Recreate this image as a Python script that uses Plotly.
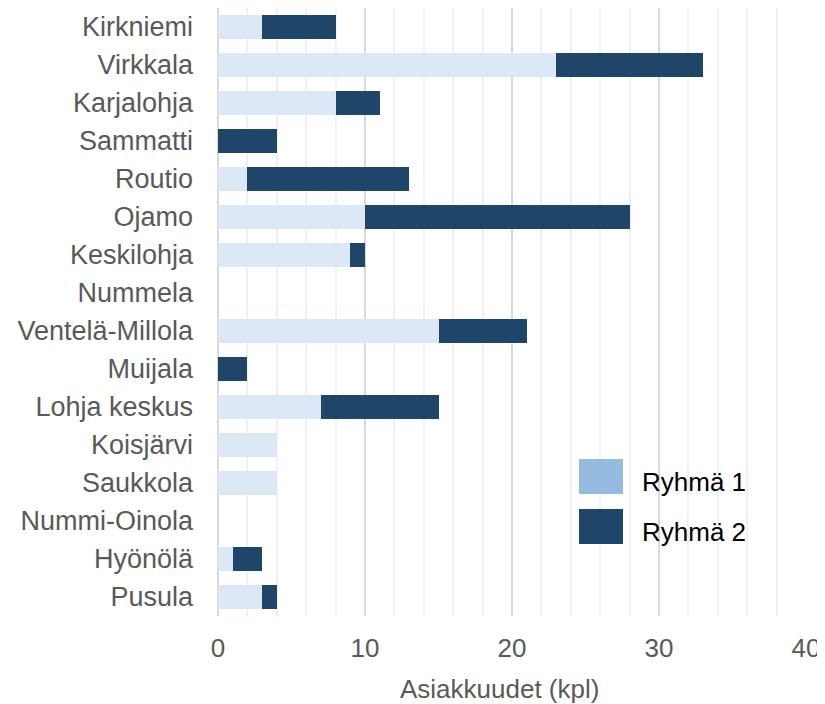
import plotly.graph_objects as go

# data
areas = ['Kirkniemi', 'Virkkala', 'Karjalohja', 'Sammatti', 'Routio', 'Ojamo',
         'Keskilohja', 'Nummela', 'Ventelä-Millola', 'Muijala', 'Lohja keskus',
         'Koisjärvi', 'Saukkola', 'Nummi-Oinola', 'Hyönölä', 'Pusula']
ryhma1 = [3, 23, 8, 0, 2, 10, 9, 0, 15, 0, 7, 4, 4, 0, 1, 3]
ryhma2 = [5, 10, 3, 4, 11, 18, 1, 0, 6, 2, 8, 0, 0, 0, 2, 1]
x_ticks = [0, 10, 20, 30, 40]

LIGHT = '#96bbe0'
DARK = '#1f4669'
FONT = 'Liberation Sans, Arial, sans-serif'

# page body has an 8px margin, so the figure is a bit smaller than the window
W, H = 817, 696
L, R, T, B = 210, 19, 0, 88
PW, PH = W - L - R, H - T - B

fig = go.Figure()
fig.add_trace(go.Bar(y=areas, x=ryhma1, orientation='h', name='Ryhmä 1',
                     marker=dict(color='#dce8f5', line=dict(width=0)),
                     width=0.63, showlegend=False))
fig.add_trace(go.Bar(y=areas, x=ryhma2, orientation='h', name='Ryhmä 2',
                     marker=dict(color=DARK, line=dict(width=0)),
                     width=0.63, showlegend=False))

fig.update_layout(
    width=W, height=H,
    barmode='stack',
    plot_bgcolor='white', paper_bgcolor='white',
    margin=dict(l=L, r=R, t=T, b=B, autoexpand=False),
    font=dict(family=FONT, color='#595959', size=22),
    showlegend=False,
)
fig.update_xaxes(
    range=[0, 40], tickvals=x_ticks, ticks='', ticklen=0, automargin=False,
    showgrid=True, gridcolor='#d9d9d9', gridwidth=2,
    minor=dict(dtick=2, showgrid=True, gridcolor='#f0f0f0', gridwidth=2),
    zeroline=True, zerolinecolor='#d9d9d9', zerolinewidth=2,
    ticklabelstandoff=14,
    tickfont=dict(size=26, color='#595959'),
)
fig.update_yaxes(
    autorange='reversed', showgrid=False, ticks='', automargin=False,
    ticklabelstandoff=24,
    tickfont=dict(size=27, color='#595959'),
)

# axis title sits a little left of the plot centre in the original
fig.add_annotation(xref='paper', yref='paper', x=281 / PW, y=-73 / PH,
                   text='Asiakkuudet (kpl)', showarrow=False,
                   xanchor='center', yanchor='middle',
                   font=dict(size=26, color='#595959', family=FONT))

# legend drawn by hand to match the large swatches (pixel positions in the plot area)
for i, (label, color) in enumerate([('Ryhmä 1', LIGHT), ('Ryhmä 2', DARK)]):
    y0 = 451 + i * 50
    fig.add_shape(type='rect', xref='paper', yref='paper',
                  x0=361 / PW, x1=405 / PW,
                  y0=(PH - (y0 + 35)) / PH, y1=(PH - y0) / PH,
                  fillcolor=color, line=dict(width=0), layer='above')
    fig.add_annotation(xref='paper', yref='paper', x=422 / PW,
                       y=(PH - (y0 + 23)) / PH, text=label, showarrow=False,
                       xanchor='left', yanchor='middle',
                       font=dict(size=26, color='black', family=FONT))

fig.write_html('out.html')
